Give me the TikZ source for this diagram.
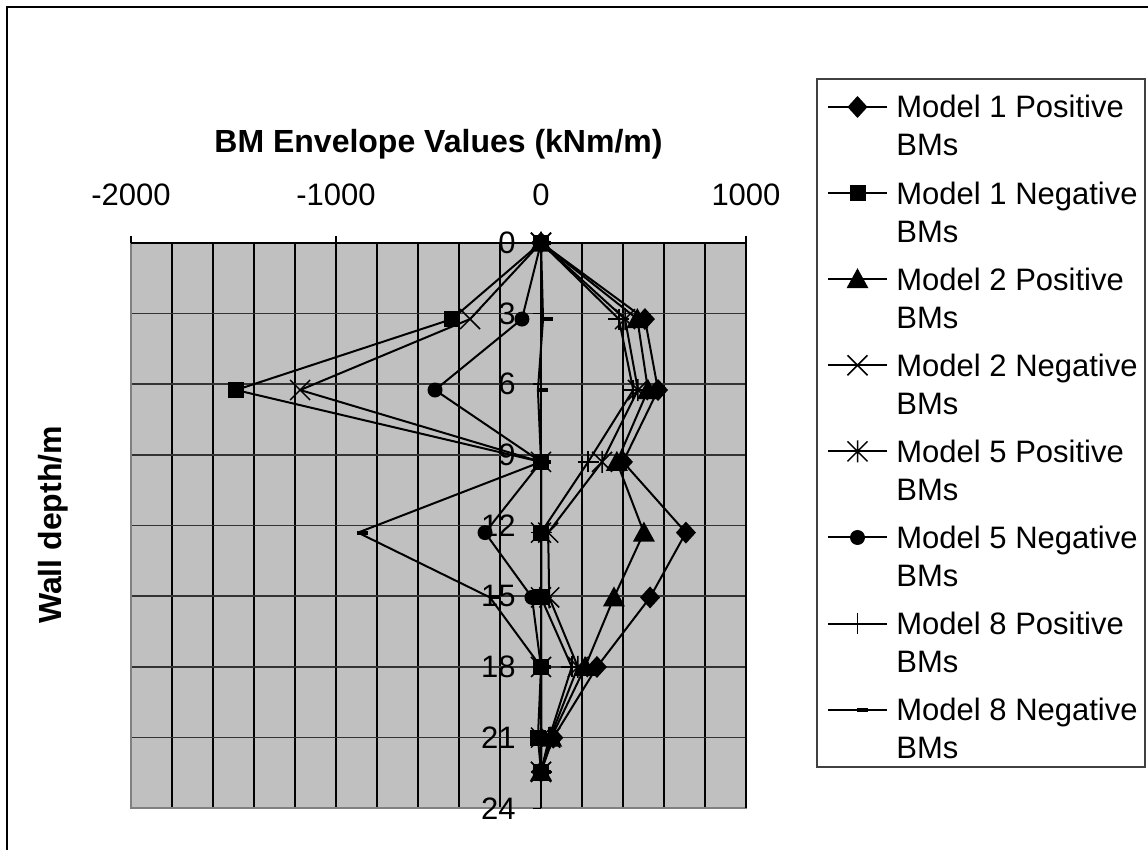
\documentclass[tikz,border=0pt]{standalone}
\usepackage{fontspec}
\setmainfont{Liberation Sans}
\usetikzlibrary{plotmarks}

% Chart markers (sizes in pt)
\pgfdeclareplotmark{mdiam}{%
  \pgfpathmoveto{\pgfqpoint{0pt}{5.5pt}}\pgfpathlineto{\pgfqpoint{5pt}{0pt}}%
  \pgfpathlineto{\pgfqpoint{0pt}{-5.5pt}}\pgfpathlineto{\pgfqpoint{-5pt}{0pt}}%
  \pgfpathclose\pgfusepathqfill}
\pgfdeclareplotmark{msq}{%
  \pgfpathrectangle{\pgfqpoint{-4pt}{-4pt}}{\pgfqpoint{8pt}{8pt}}\pgfusepathqfill}
\pgfdeclareplotmark{mtri}{%
  \pgfpathmoveto{\pgfqpoint{0pt}{5.5pt}}\pgfpathlineto{\pgfqpoint{5.5pt}{-4.5pt}}%
  \pgfpathlineto{\pgfqpoint{-5.5pt}{-4.5pt}}\pgfpathclose\pgfusepathqfill}
\pgfdeclareplotmark{mx}{%
  \pgfpathmoveto{\pgfqpoint{-5pt}{-5pt}}\pgfpathlineto{\pgfqpoint{5pt}{5pt}}%
  \pgfpathmoveto{\pgfqpoint{-5pt}{5pt}}\pgfpathlineto{\pgfqpoint{5pt}{-5pt}}%
  \pgfusepathqstroke}
\pgfdeclareplotmark{mast}{%
  \pgfpathmoveto{\pgfqpoint{-5pt}{-5pt}}\pgfpathlineto{\pgfqpoint{5pt}{5pt}}%
  \pgfpathmoveto{\pgfqpoint{-5pt}{5pt}}\pgfpathlineto{\pgfqpoint{5pt}{-5pt}}%
  \pgfpathmoveto{\pgfqpoint{0pt}{-5.5pt}}\pgfpathlineto{\pgfqpoint{0pt}{5.5pt}}%
  \pgfusepathqstroke}
\pgfdeclareplotmark{mdot}{%
  \pgfpathcircle{\pgfpointorigin}{3.75pt}\pgfusepathqfill}
\pgfdeclareplotmark{mplus}{%
  \pgfpathmoveto{\pgfqpoint{-5.25pt}{0pt}}\pgfpathlineto{\pgfqpoint{5.25pt}{0pt}}%
  \pgfpathmoveto{\pgfqpoint{0pt}{-5.25pt}}\pgfpathlineto{\pgfqpoint{0pt}{5.25pt}}%
  \pgfusepathqstroke}
\pgfdeclareplotmark{mdash}{%
  \pgfpathrectangle{\pgfqpoint{-0.5pt}{-1pt}}{\pgfqpoint{5.5pt}{2pt}}\pgfusepathqfill}

\definecolor{plotgray}{HTML}{C0C0C0}
\definecolor{framegray}{HTML}{808080}
\definecolor{legendframe}{HTML}{404040}

\tikzset{
  series/.style={line width=1pt, black, line join=round,
    mark options={solid, fill=black, draw=black, line width=0.75pt}},
  vgrid/.style={line width=0.6pt, black},
  hgrid/.style={line width=0.75pt, black!80},
  axisline/.style={line width=1pt, black},
  ticklabel/.style={inner sep=0pt},
  axistitle/.style={inner sep=0pt, font=\fontsize{16}{19}\selectfont\bfseries},
  legendtext/.style={anchor=base west, inner sep=0pt},
}

\begin{document}
\begin{tikzpicture}[x=0.5pt, y=-0.5pt, font=\fontsize{15.5}{18}\selectfont]
\useasboundingbox (0,0) rectangle (1148,850);

% chart frame
\draw[line width=0.7pt] (7,852) -- (7,7) -- (1150,7);

% plot area
\fill[plotgray] (131,242.7) rectangle (746,808.4);

\begin{scope}[shift={(541,242.7)}, x=0.1025pt, y=-11.785pt]
  % gridlines
  \foreach \v in {-1800,-1600,...,800} \draw[vgrid] (\v,0) -- (\v,24);
  \foreach \d in {3,6,...,21} \draw[hgrid] (-2000,\d) -- (1000,\d);
  \draw[line width=1.1pt, framegray] (-2000,0) -- (-2000,24) -- (1000,24) -- (1000,0);
  \draw[vgrid] (1000,0) -- (1000,24);

  % horizontal value axis along the top
  \draw[axisline] (-2000,0) -- (1000,0);
  \foreach \v in {-2000,-1000,0,1000} {
    \draw[axisline] (\v,0) -- (\v,-0.3);
    \node[ticklabel] (xt\v) at (\v,-2.02) {\v};
  }

  % vertical depth axis at zero
  \draw[axisline] (0,0) -- (0,24);
  \foreach \d in {0,3,...,24} {
    \draw[line width=0.75pt] (0,\d) -- (-40,\d);
    \node[ticklabel, anchor=east] (yt\d) at (-122,\d) {\d};
  }

  % data series
  \draw[series, mark=mdiam] plot coordinates {(0,0) (507,3.24) (571,6.25) (400,9.3) (707,12.3) (532,15.05) (273,18) (60,21) (0,22.45)};
  \draw[series, mark=msq] plot coordinates {(0,0) (-434,3.24) (-1488,6.25) (0,9.3) (0,12.3) (0,15.05) (0,18) (-15,21) (0,22.45)};
  \draw[series, mark=mtri] plot coordinates {(0,0) (470,3.24) (522,6.25) (370,9.3) (502,12.3) (356,15.05) (215,18) (50,21) (0,22.45)};
  \draw[series, mark=mx] plot coordinates {(0,0) (-346,3.24) (-1175,6.25) (0,9.3) (0,12.3) (0,15.05) (0,18) (0,21) (0,22.45)};
  \draw[series, mark=mast] plot coordinates {(0,0) (410,3.24) (473,6.25) (298,9.3) (35,12.3) (40,15.05) (180,18) (45,21) (0,22.45)};
  \draw[series, mark=mdot] plot coordinates {(0,0) (-93,3.24) (-517,6.25) (0,9.3) (-273,12.3) (-44,15.05) (0,18) (0,21) (0,22.45)};
  \draw[series, mark=mplus] plot coordinates {(0,0) (380,3.24) (450,6.25) (230,9.3) (0,12.3) (0,15.05) (150,18) (40,21) (0,22.45)};
  \draw[series, mark=mdash] plot coordinates {(0,0) (10,3.24) (-15,6.25) (0,9.3) (-893,12.3) (-249,15.05) (0,18) (0,21) (0,22.45)};
\end{scope}

% axis titles
\node[axistitle] (title) at (438.5,144) {BM Envelope Values (kNm/m)};
\node[axistitle, rotate=90] (ytitle) at (53,525) {Wall depth/m};

% legend
\draw[line width=0.75pt, legendframe, fill=white] (817,79) rectangle (1145,767);
\foreach \m/\lab [count=\k from 0] in {mdiam/Model 1 Positive, msq/Model 1 Negative,
    mtri/Model 2 Positive, mx/Model 2 Negative, mast/Model 5 Positive,
    mdot/Model 5 Negative, mplus/Model 8 Positive, mdash/Model 8 Negative} {
  \pgfmathsetmacro\ly{107+86.1*\k}
  \draw[series, mark=\m, mark indices={2}] plot coordinates {(828,\ly) (857.5,\ly) (887,\ly)};
  \node[legendtext] (lg\k a) at (896,\ly+11) {\lab};
  \node[legendtext] (lg\k b) at (896,\ly+49) {BMs};
}
\end{tikzpicture}
\end{document}
